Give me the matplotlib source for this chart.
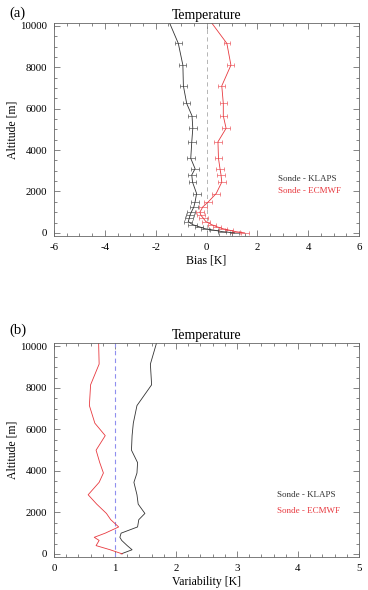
import matplotlib
matplotlib.use("Agg")
import matplotlib.pyplot as plt
from matplotlib.ticker import MultipleLocator


# =========================================================
# Data
# =========================================================

# panel (a): bias profiles
ALT_A = [10360, 9150, 8100, 7100, 6250, 5650, 5050, 4400, 3600, 3100,
         2800, 2450, 1900, 1500, 1250, 1000, 850, 700, 550, 400,
         300, 200, 130, 60, 0]

BIAS_KLAPS = [-1.53, -1.11, -0.93, -0.91, -0.78, -0.57, -0.54, -0.58, -0.62, -0.45,
              -0.58, -0.55, -0.39, -0.45, -0.50, -0.60, -0.65, -0.68, -0.72, -0.55,
              -0.30, -0.05, 0.30, 0.62, 1.10]

BIAS_ECMWF = [0.07, 0.80, 0.96, 0.60, 0.66, 0.66, 0.77, 0.45, 0.47, 0.53,
              0.57, 0.60, 0.38, 0.07, -0.15, -0.26, -0.22, -0.12, -0.03, 0.20,
              0.40, 0.65, 0.90, 1.15, 1.50]

ERR_KLAPS = [0.13, 0.13, 0.14, 0.14, 0.14, 0.14, 0.15, 0.15, 0.15, 0.15,
             0.15, 0.15, 0.16, 0.16, 0.16, 0.16, 0.16, 0.16, 0.16, 0.16,
             0.16, 0.16, 0.16, 0.16, 0.16]

ERR_ECMWF = [0.13, 0.13, 0.14, 0.14, 0.14, 0.14, 0.15, 0.15, 0.15, 0.15,
             0.15, 0.15, 0.16, 0.16, 0.16, 0.16, 0.16, 0.16, 0.16, 0.16,
             0.16, 0.16, 0.16, 0.16, 0.16]

# panel (b): variability profiles
ALT_B = [10360, 9150, 8150, 7150, 6300, 5700, 5000, 4400, 3900, 3450,
         2850, 2400, 1950, 1650, 1300, 1000, 800, 650, 400, 200, 0]

VAR_KLAPS = [1.70, 1.58, 1.60, 1.36, 1.30, 1.28, 1.27, 1.37, 1.36, 1.31,
             1.36, 1.38, 1.49, 1.39, 1.37, 1.10, 1.08, 1.11, 1.20, 1.28, 1.10]

VAR_ECMWF = [0.73, 0.74, 0.60, 0.58, 0.67, 0.84, 0.69, 0.75, 0.81, 0.74,
             0.56, 0.70, 0.86, 0.93, 1.06, 0.84, 0.66, 0.74, 0.69, 0.92, 1.12]

LABELS = ["Sonde - KLAPS", "Sonde - ECMWF"]
COLORS = ["#333333", "#e8393f"]


# =========================================================
# Style
# =========================================================

plt.rcParams["font.family"] = ["Liberation Serif", "DejaVu Serif"]
plt.rcParams["font.size"] = 7.5
plt.rcParams["axes.unicode_minus"] = False


def style_axes(ax, xmajor, xminor):

    ax.set_ylim(-150, 10150)
    ax.yaxis.set_major_locator(MultipleLocator(2000))
    ax.yaxis.set_minor_locator(MultipleLocator(500))
    ax.xaxis.set_major_locator(MultipleLocator(xmajor))
    ax.xaxis.set_minor_locator(MultipleLocator(xminor))

    ax.tick_params(which="both", direction="in", top=True, right=True,
                   width=0.5, colors="#555555", labelcolor="black",
                   labelsize=7.8)
    ax.tick_params(which="major", length=4.5, pad=5)
    ax.tick_params(which="minor", length=2.2)

    for sp in ax.spines.values():
        sp.set_linewidth(0.6)
        sp.set_color("#666666")

    ax.set_ylabel("Altitude [m]", fontsize=8.5, labelpad=1)
    ax.set_title("Temperature", fontsize=10, pad=3)


def add_legend(ax, x, y1, y2):

    ax.text(x, y1, LABELS[0], color=COLORS[0], fontsize=6.5, va="center")
    ax.text(x, y2, LABELS[1], color=COLORS[1], fontsize=6.5, va="center")


# =========================================================
# Figure
# =========================================================

fig = plt.figure(figsize=(3.68, 5.90), dpi=100)

ax_a = fig.add_axes([0.1467, 0.6, 0.829, 0.3615])
ax_b = fig.add_axes([0.1467, 0.0559, 0.829, 0.3622])

# ---- panel (a)
ax_a.axvline(0, color="#aaaaaa", lw=0.6, ls=(0, (5, 4)))

ax_a.errorbar(BIAS_KLAPS, ALT_A, xerr=ERR_KLAPS, color=COLORS[0],
              lw=0.6, elinewidth=0.4, capsize=1.2, capthick=0.4)
ax_a.errorbar(BIAS_ECMWF, ALT_A, xerr=ERR_ECMWF, color=COLORS[1],
              lw=0.6, elinewidth=0.4, capsize=1.2, capthick=0.4)

ax_a.set_xlim(-6, 6)
style_axes(ax_a, 2, 0.5)
ax_a.set_xlabel("Bias [K]", fontsize=8.5, labelpad=2)
add_legend(ax_a, 2.8, 2580, 2020)
fig.text(0.025, 0.978, "(a)", fontsize=10.5, va="center")

# ---- panel (b)
ax_b.axvline(1, color="#8f8fee", lw=0.8, ls=(0, (4, 3)))

ax_b.plot(VAR_KLAPS, ALT_B, color=COLORS[0], lw=0.6)
ax_b.plot(VAR_ECMWF, ALT_B, color=COLORS[1], lw=0.6)

ax_b.set_xlim(0, 5)
style_axes(ax_b, 1, 0.2)
ax_b.set_xlabel("Variability [K]", fontsize=8.5, labelpad=2)
add_legend(ax_b, 3.65, 2850, 2050)
fig.text(0.025, 0.44, "(b)", fontsize=10.5, va="center")

fig.savefig("out.png", dpi=100)
